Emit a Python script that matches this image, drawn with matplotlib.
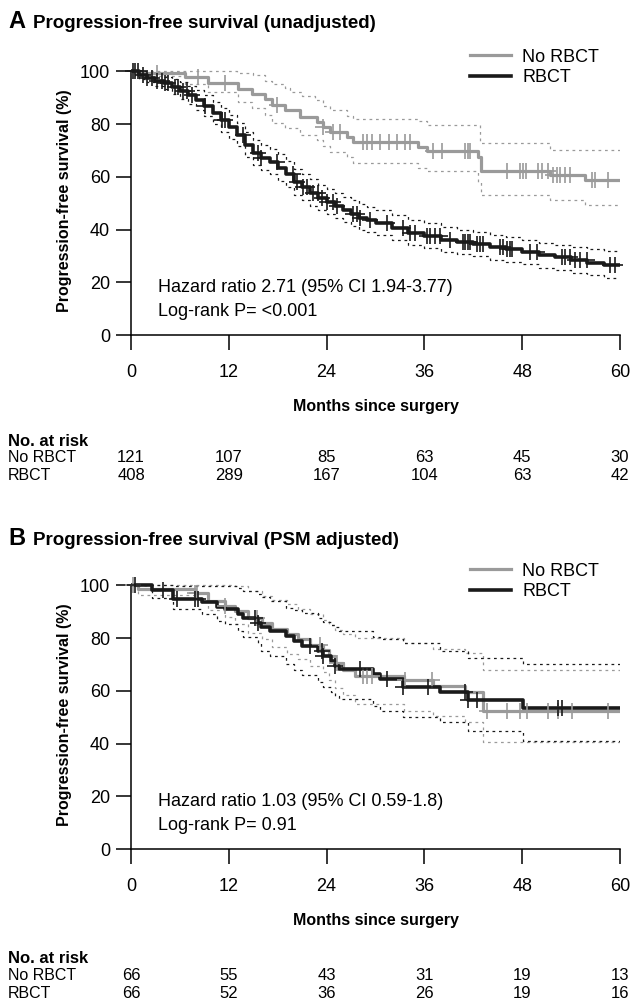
import numpy as np
import matplotlib
matplotlib.use('Agg')
import matplotlib.pyplot as plt
from matplotlib import font_manager, transforms

names = {f.name for f in font_manager.fontManager.ttflist}
narrow = 'Liberation Sans Narrow' if 'Liberation Sans Narrow' in names else 'Liberation Sans'
plt.rcParams['font.family'] = ['Liberation Sans', 'DejaVu Sans']

GRAY = '#9a9a9a'
BLACK = '#1a1a1a'

# ---------------- Panel A (unadjusted) ----------------
a_no_t = [0, 0.5, 6.6, 9.5, 13.1, 14.9, 16.4, 17.3, 18.9, 20.7, 22.8, 23.6, 24.4, 26.5, 27.3,
          35.2, 36.3, 42.6, 43.0, 51.4, 55.7, 60]
a_no_s = [100, 99.4, 97.9, 95.6, 93.4, 91.5, 89.6, 87.1, 85.2, 82.7, 80.8, 78.8, 77.0, 75.1, 73.2,
          71.3, 69.8, 67.4, 62.1, 60.6, 58.7, 58.7]
a_no_up_t = [0, 13, 15, 16.5, 17.3, 18.9, 19.5, 21, 22.6, 23.6, 24.4, 26.5, 27.3, 35.2, 36.3, 42.8, 51.4, 60]
a_no_up_s = [100, 99.2, 98.5, 96.5, 95.3, 93.5, 92.2, 90.5, 89, 87, 85.2, 83, 82, 81, 79.5, 72.7, 70, 70]
a_no_lo_t = [0, 0.5, 6.6, 9.5, 13.1, 14.9, 16.4, 17.3, 18.9, 20.7, 22.8, 23.6, 24.4, 26.5, 27.3,
             35.2, 36.3, 42.6, 43.0, 51.4, 55.7, 60]
a_no_lo_s = [100, 98.3, 95.3, 92, 88.5, 86, 83.3, 80.5, 78.5, 76, 74, 71.5, 69.5, 67.4, 65.2,
             63.5, 62, 58, 53, 51.1, 49.2, 49.2]
a_no_cens = [3.2, 8.2, 11.5, 17.9, 23.6, 24.8, 25.6, 28.5, 29, 29.6, 30.6, 31.7, 32.6, 33.6, 34.2,
             37.1, 38.2, 41, 41.3, 41.6, 46.1, 47.7, 48.1, 48.5, 49.9, 50.4, 51.2, 51.8, 52.3, 52.6,
             53.3, 53.9, 56.6, 56.9, 58.5]

a_rb_t = [0, 1, 2, 3, 4, 5, 6, 7, 8, 9, 10, 11, 12, 13, 14, 15, 16, 17, 18, 19, 20, 21, 22, 23,
          24, 25, 26, 27, 28, 29, 30, 32, 34, 36, 38, 40, 42, 44, 46, 48, 50, 52, 54, 56, 58, 60]
a_rb_s = [100, 98.5, 97.5, 96.5, 95.5, 94, 92.5, 91, 89, 87, 84, 81.5, 79, 76, 72, 69, 67, 65.5,
          63.5, 61, 58, 56, 54, 52, 50.5, 49, 47.5, 46, 44.5, 43.5, 42.5, 40.5, 38.5, 37.5, 36,
          35.3, 34.5, 33.4, 32.5, 31.6, 30.3, 29.5, 28.4, 27.3, 26.5, 26.5]
a_rb_up_s = [100, 100, 99.5, 98.8, 98, 97, 95.8, 94.5, 92.8, 91, 88.5, 86, 83.5, 80.5, 77, 74, 72,
             70.5, 68.5, 66, 63, 61, 59, 57, 55.5, 54, 52.5, 51, 49.5, 48.5, 47.5, 45.5, 43.5,
             42.5, 41, 40, 39.2, 38, 37, 36.2, 35, 34.2, 33.2, 32.5, 32, 32]
a_rb_lo_s = [100, 97, 95.8, 94.5, 93.2, 91.5, 89.5, 87.5, 85.5, 83, 80, 77, 74.5, 71.5, 67.5, 64.5,
             62.5, 61, 58.5, 56, 53, 51, 49, 47.5, 46, 44.5, 43, 41.5, 40, 39, 38, 36, 34, 33,
             31.5, 30.7, 29.8, 28.6, 27.6, 26.8, 25.5, 24.6, 23.6, 22.6, 21.6, 21.5]
a_rb_cens = [0.2, 0.5, 0.9, 1.5, 2.0, 2.6, 3.2, 3.8, 4.2, 4.5, 5.4, 5.8, 6.4, 6.9, 7.5, 9.1, 11.2,
             11.5, 13.7, 15.6, 16.0, 17.9, 19.9, 20.4, 21.1, 21.6, 22.3, 22.9, 23.4, 24.0, 24.8,
             25.3, 27.2, 27.7, 28.1, 29.3, 31.4, 33.4, 34.2, 34.8, 36.3, 36.7, 37.3, 37.9, 39.1,
             40.7, 41.0, 41.3, 41.6, 42.5, 42.8, 43.2, 45.3, 45.6, 46.1, 46.5, 46.8, 49.0, 49.8,
             52.9, 53.2, 53.9, 54.5, 55.1, 55.9, 58.8, 59.4]

a_risk_no = [121, 107, 85, 63, 45, 30]
a_risk_rb = [408, 289, 167, 104, 63, 42]

# ---------------- Panel B (PSM adjusted) ----------------
b_no_t = [0, 0.8, 7.9, 9.5, 11.5, 12.8, 14.3, 16.1, 17.3, 19.2, 20.5, 22.0, 23.5, 24.3, 25.0, 26.0,
          27.5, 33.5, 37.0, 41.0, 43.2, 60]
b_no_s = [100, 98.5, 97.1, 94.0, 92.1, 90.2, 87.5, 85.8, 83.3, 81.5, 79.5, 77.5, 75.5, 73.0, 70.5,
          68.0, 65.7, 64.0, 61.9, 59.4, 52.2, 52.2]
b_no_up_s = [100, 100, 100, 100, 100, 99.6, 98, 96, 94.5, 93, 91, 89, 87, 85, 83, 81.5, 80.1, 78,
             75.8, 74.5, 67.9, 67.9]
b_no_lo_s = [100, 96.5, 94.5, 90.5, 88, 85.5, 82, 79.5, 76.5, 74, 72, 69.5, 67, 64, 61, 58.5, 55,
             52.5, 50.6, 48, 40.5, 40.5]
b_no_cens = [0.2, 7.9, 8.1, 11.5, 15.4, 23.2, 25.3, 28.5, 29.0, 29.6, 33.6, 36.9, 43.7, 46.1, 47.7,
             48.6, 51.2, 52.4, 54.1, 58.5]

b_rb_t = [0, 2.6, 5.2, 8.7, 10.5, 11.5, 13.1, 13.7, 15.6, 16.0, 17.1, 19.0, 20.0, 21.0, 23.0, 23.6,
          24.6, 25.0, 25.5, 29.7, 30.6, 33.4, 37.9, 41.4, 48.1, 60]
b_rb_s = [100, 98.1, 94.8, 93.6, 91.8, 90.9, 89.1, 87.7, 85.8, 84.3, 82.6, 80.8, 78.9, 77.0, 75.1,
          73.2, 71.3, 69.4, 68.2, 66.4, 64.4, 61.5, 59.7, 56.4, 53.5, 53.5]
b_rb_up_s = [100, 100, 99.6, 99.6, 99.6, 99.6, 98.8, 98, 96.6, 95.5, 94, 91.5, 90.5, 89.5, 87.5,
             86, 85, 84, 82.5, 80.5, 79.5, 78, 75.1, 72.6, 70, 70]
b_rb_lo_s = [100, 95.2, 90.9, 89, 86.5, 85.3, 82.5, 80.4, 78, 75.1, 73, 70, 68, 66, 63.5, 61.3,
             59.5, 58, 57, 54.3, 52.5, 49.9, 48, 44.9, 41.1, 41.1]
b_rb_cens = [0.5, 3.9, 5.6, 7.9, 8.2, 15.2, 15.6, 22.0, 23.4, 23.6, 25.0, 28.1, 31.4, 33.4, 36.4,
             41.0, 41.4, 42.5, 52.4, 52.9]

b_risk_no = [66, 55, 43, 31, 19, 13]
b_risk_rb = [66, 52, 36, 26, 19, 16]

months = [0, 12, 24, 36, 48, 60]
yticks = [0, 20, 40, 60, 80, 100]


def step_at(t, s, c):
    t = np.asarray(t)
    s = np.asarray(s)
    idx = np.searchsorted(t, c, side='right') - 1
    return s[idx]


def draw_panel(ax, groups, hr_text, p_text):
    for t, s, up_t, up, lo_t, lo, cens, col, lw, lab in groups:
        ax.step(up_t, up, where='post', color=col, lw=0.9, ls=(0, (2.2, 3)), zorder=2)
        ax.step(lo_t, lo, where='post', color=col, lw=0.9, ls=(0, (2.2, 3)), zorder=2)
    for t, s, up_t, up, lo_t, lo, cens, col, lw, lab in groups:
        ax.step(t, s, where='post', color=col, lw=lw, label=lab, zorder=3)
        ax.plot(cens, step_at(t, s, cens), ls='none', marker='+', ms=12, mew=1.2,
                color=col, zorder=4, clip_on=False)
    ax.set_xlim(0, 60)
    ax.set_ylim(0, 102)
    ax.set_xticks(months)
    ax.set_yticks(yticks)
    ax.spines['top'].set_visible(False)
    ax.spines['right'].set_visible(False)
    ax.spines['left'].set_bounds(0, 100)
    for sp in ('left', 'bottom'):
        ax.spines[sp].set_linewidth(1.1)
    ax.tick_params(direction='out', length=11, width=1.1, labelsize=13, pad=4)
    ax.tick_params(axis='x', pad=10)
    ax.set_xlabel('Months since surgery', fontsize=11.5, fontweight='bold',
                  family=narrow, labelpad=13)
    ax.set_ylabel('Progression-free survival (%)', fontsize=11.5, fontweight='bold',
                  family=narrow)
    ax.yaxis.set_label_coords(-0.12, 0.5)
    ax.text(0.055, 0.178, hr_text, transform=ax.transAxes, fontsize=13, va='center')
    ax.text(0.055, 0.086, p_text, transform=ax.transAxes, fontsize=13, va='center')
    ax.legend(loc='upper left', bbox_to_anchor=(0.693, 1.065), frameon=False, fontsize=13,
              handlelength=2.3, handletextpad=0.6, labelspacing=0.2, borderpad=0,
              borderaxespad=0)


def risk_table(fig, ax, ys, risk_no, risk_rb):
    tr = transforms.blended_transform_factory(ax.transData, fig.transFigure)
    fig.text(8 / 632, ys[0], 'No. at risk', fontsize=12, fontweight='bold', family=narrow,
             va='center')
    fig.text(8 / 632, ys[1], 'No RBCT', fontsize=11.5, va='center')
    fig.text(8 / 632, ys[2], 'RBCT', fontsize=11.5, va='center')
    for m, n1, n2 in zip(months, risk_no, risk_rb):
        ax.text(m, ys[1], str(n1), transform=tr, fontsize=12, ha='center', va='center')
        ax.text(m, ys[2], str(n2), transform=tr, fontsize=12, ha='center', va='center')


fig = plt.figure(figsize=(6.32, 10.05), dpi=100)
H = 1005.0
axA = fig.add_axes([131 / 632, (H - 335) / H, 489 / 632, 269 / H])
axB = fig.add_axes([131 / 632, (H - 849) / H, 489 / 632, 269 / H])

draw_panel(axA, [
    (a_no_t, a_no_s, a_no_up_t, a_no_up_s, a_no_lo_t, a_no_lo_s, a_no_cens, GRAY, 2.3, 'No RBCT'),
    (a_rb_t, a_rb_s, a_rb_t, a_rb_up_s, a_rb_t, a_rb_lo_s, a_rb_cens, BLACK, 2.6, 'RBCT'),
], 'Hazard ratio 2.71 (95% CI 1.94-3.77)', 'Log-rank P= <0.001')

draw_panel(axB, [
    (b_no_t, b_no_s, b_no_t, b_no_up_s, b_no_t, b_no_lo_s, b_no_cens, GRAY, 2.3, 'No RBCT'),
    (b_rb_t, b_rb_s, b_rb_t, b_rb_up_s, b_rb_t, b_rb_lo_s, b_rb_cens, BLACK, 2.6, 'RBCT'),
], 'Hazard ratio 1.03 (95% CI 0.59-1.8)', 'Log-rank P= 0.91')

risk_table(fig, axA, [(H - 441) / H, (H - 458) / H, (H - 475) / H], a_risk_no, a_risk_rb)
risk_table(fig, axB, [(H - 958) / H, (H - 975) / H, (H - 993) / H], b_risk_no, b_risk_rb)

for y, letter, title in [((H - 28) / H, 'A', 'Progression-free survival (unadjusted)'),
                         ((H - 545) / H, 'B', 'Progression-free survival (PSM adjusted)')]:
    fig.text(8 / 632, y, letter, fontsize=17, fontweight='bold', va='baseline')
    fig.text(33 / 632, y, title, fontsize=13.5, fontweight='bold', family=narrow, va='baseline')

fig.savefig('out.png', dpi=100)
